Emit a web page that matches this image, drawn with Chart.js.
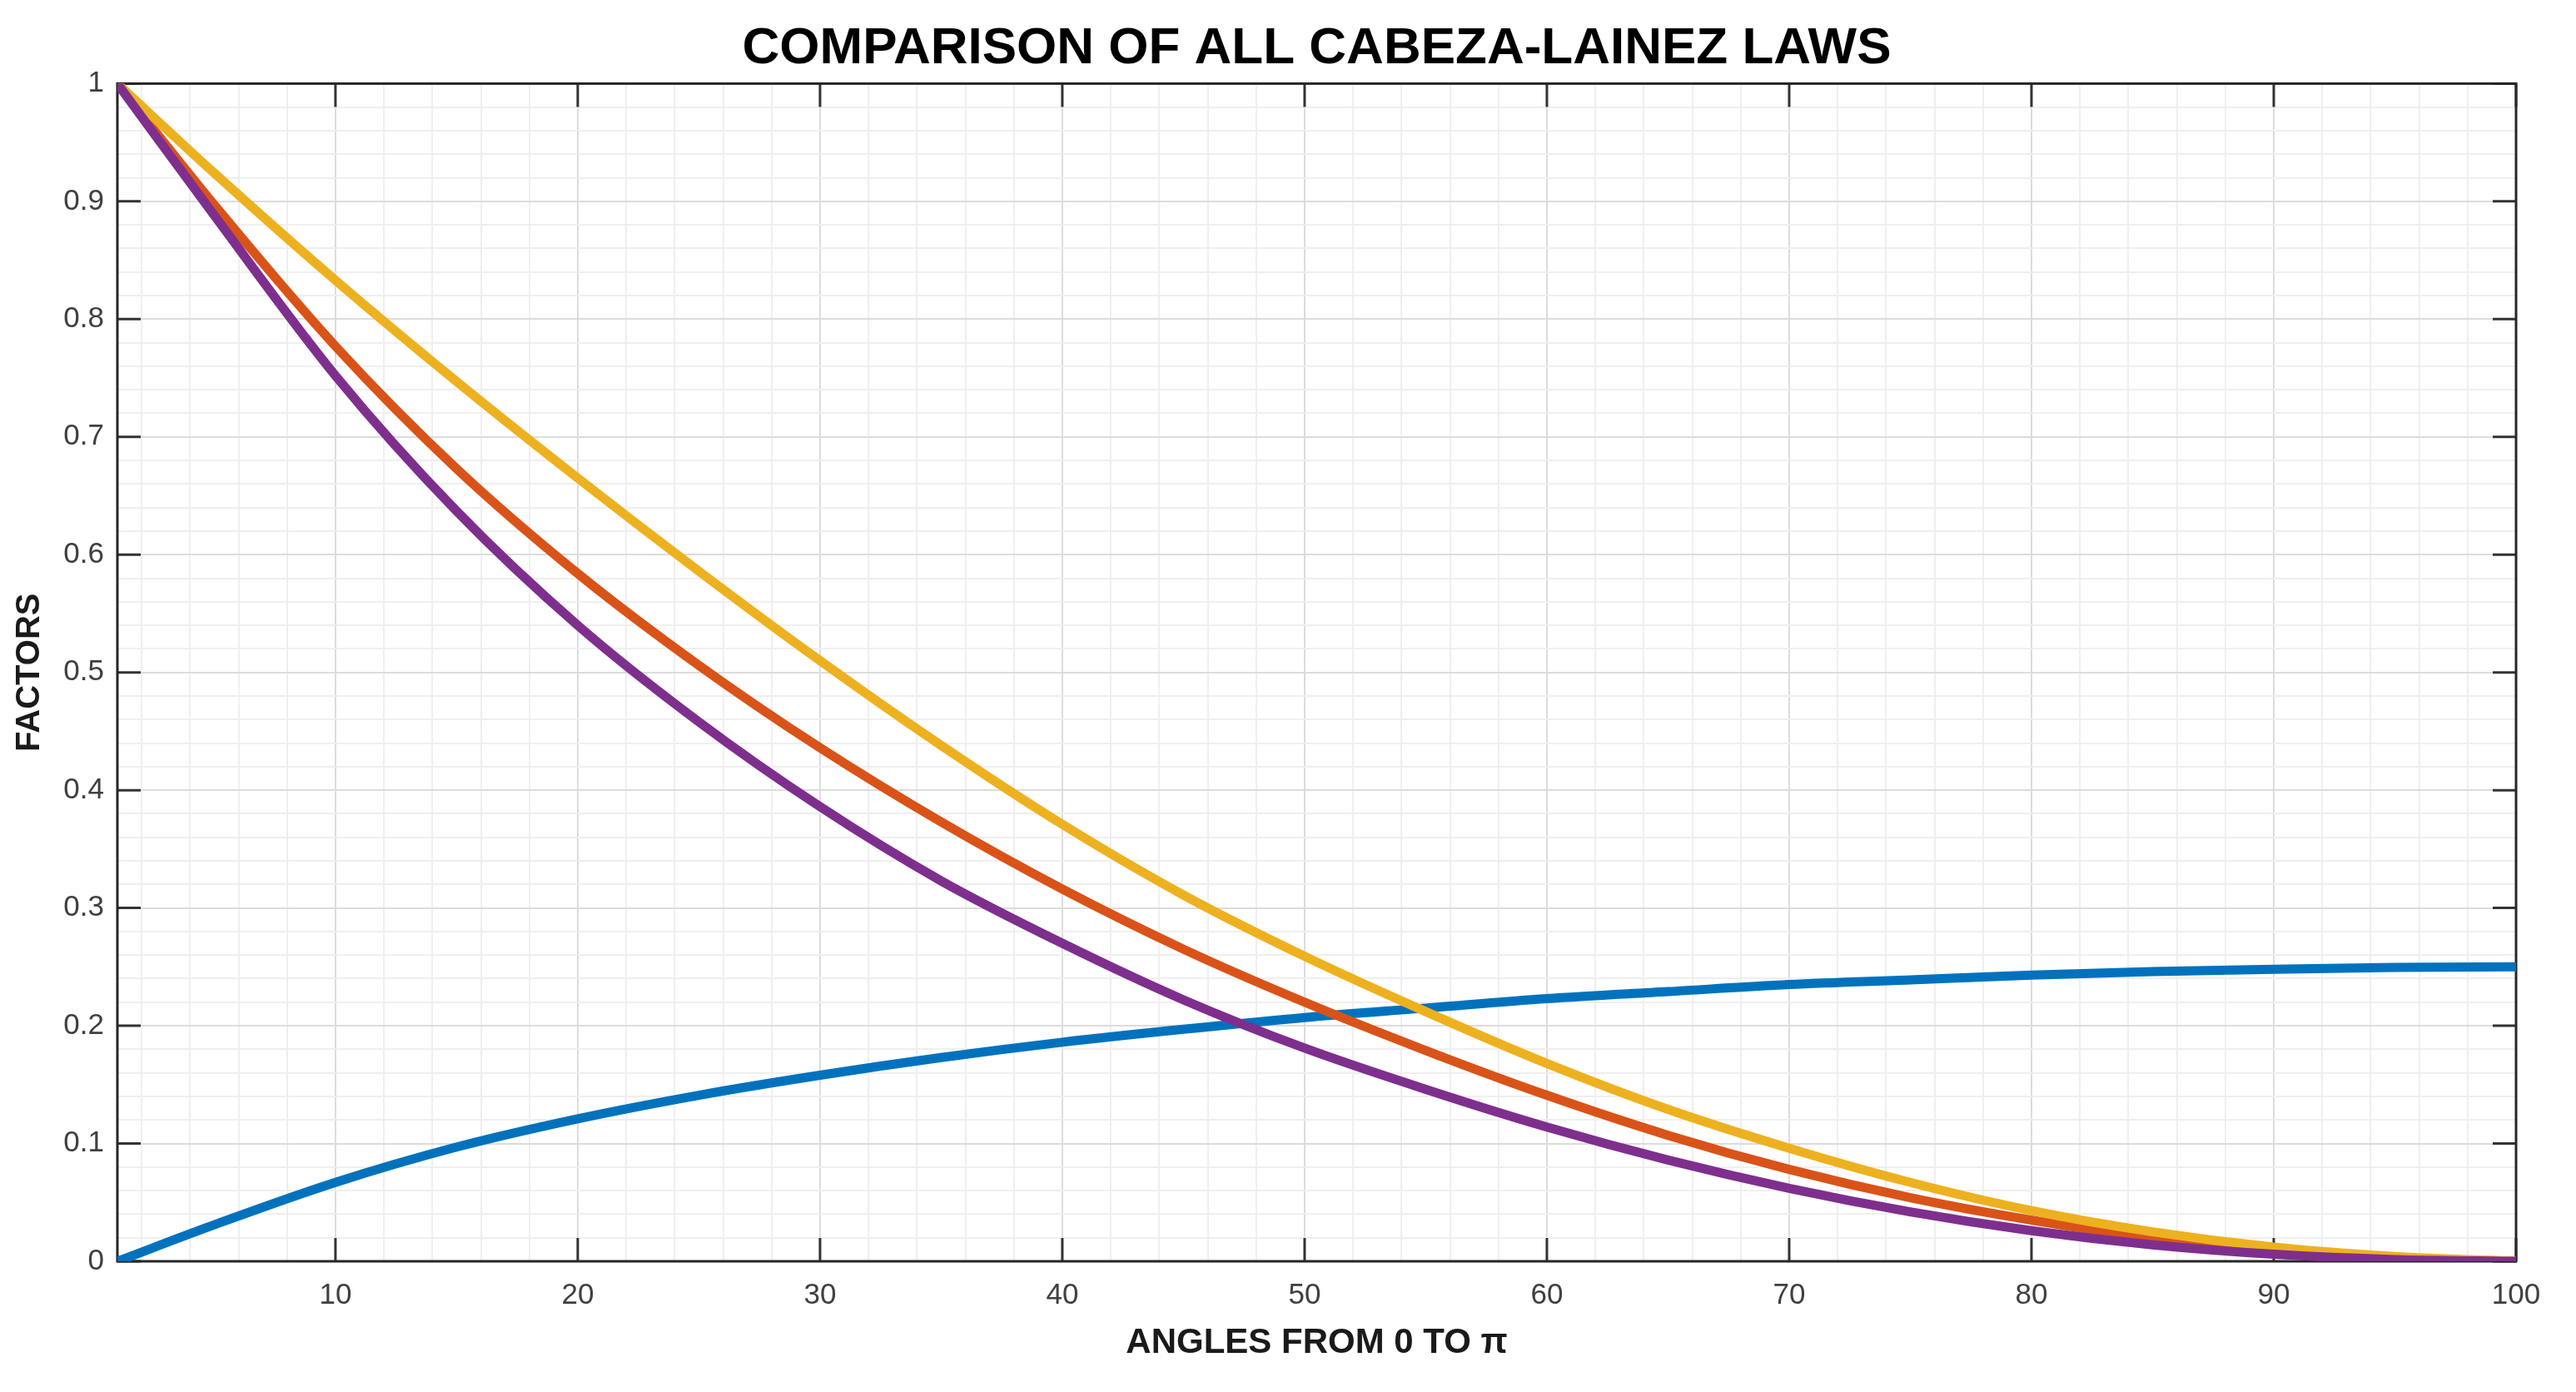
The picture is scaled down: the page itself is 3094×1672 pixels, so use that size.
<!DOCTYPE html>
<html>
<head>
<meta charset="utf-8">
<script src="https://cdn.jsdelivr.net/npm/chart.js@4.4.1/dist/chart.umd.min.js"></script>
<style>
  html, body { margin: 0; padding: 0; background: #fff; }
</style>
</head>
<body>
<canvas id="lawsChart" width="3094" height="1672"></canvas>
<script>
// sample angles (index 1..100) and values
const angles = [1, 5, 10, 15, 20, 25, 30, 35, 40, 45, 50, 55, 60, 65, 70, 75, 80, 85, 90, 95, 100];
const lawBlue   = [0, 0.031, 0.067, 0.097, 0.121, 0.141, 0.158, 0.173, 0.186, 0.197, 0.207, 0.215, 0.223, 0.229, 0.235, 0.239, 0.243, 0.246, 0.248, 0.2495, 0.250];
const lawOrange = [1, 0.897, 0.777, 0.673, 0.584, 0.506, 0.436, 0.373, 0.316, 0.265, 0.220, 0.179, 0.141, 0.107, 0.078, 0.054, 0.035, 0.020, 0.010, 0.003, 0];
const lawYellow = [1, 0.924, 0.833, 0.747, 0.665, 0.586, 0.510, 0.438, 0.371, 0.311, 0.259, 0.212, 0.168, 0.129, 0.096, 0.067, 0.043, 0.025, 0.012, 0.004, 0];
const lawPurple = [1, 0.888, 0.752, 0.637, 0.540, 0.458, 0.386, 0.323, 0.270, 0.222, 0.181, 0.146, 0.114, 0.086, 0.062, 0.042, 0.026, 0.014, 0.006, 0.0015, 0];

const xMajorTicks = [10, 20, 30, 40, 50, 60, 70, 80, 90, 100];
const yMajorTicks = [0, 0.1, 0.2, 0.3, 0.4, 0.5, 0.6, 0.7, 0.8, 0.9, 1];
const yTickLabels = ['0', '0.1', '0.2', '0.3', '0.4', '0.5', '0.6', '0.7', '0.8', '0.9', '1'];
const xMinorStep = 2;
const yMinorStep = 0.02;

function findTick(list, v) {
  return list.findIndex(t => Math.abs(t - v) < 1e-6);
}

function points(values) {
  return angles.map((a, i) => ({ x: a, y: values[i] }));
}

function gridColor(ctx, majors) {
  if (!ctx.tick) return '#efefef';
  return findTick(majors, ctx.tick.value) >= 0 ? '#dcdcdc' : '#efefef';
}

// matlab style box with inward tick marks on all four sides
const boxPlugin = {
  id: 'matlabBox',
  beforeDatasetsDraw(chart) {
    const { ctx, chartArea: a, scales: { x, y } } = chart;
    const len = 28;
    ctx.save();
    ctx.strokeStyle = '#333333';
    ctx.lineWidth = 3;
    ctx.beginPath();
    xMajorTicks.forEach(v => {
      const px = x.getPixelForValue(v);
      ctx.moveTo(px, a.bottom); ctx.lineTo(px, a.bottom - len);
      ctx.moveTo(px, a.top); ctx.lineTo(px, a.top + len);
    });
    yMajorTicks.forEach(v => {
      const py = y.getPixelForValue(v);
      ctx.moveTo(a.left, py); ctx.lineTo(a.left + len, py);
      ctx.moveTo(a.right, py); ctx.lineTo(a.right - len, py);
    });
    ctx.stroke();
    ctx.strokeStyle = '#262626';
    ctx.strokeRect(a.left, a.top, a.right - a.left, a.bottom - a.top);
    ctx.restore();
  }
};

const lineStyle = {
  borderWidth: 11,
  pointRadius: 0,
  fill: false,
  cubicInterpolationMode: 'monotone',
  borderJoinStyle: 'round'
};

new Chart(document.getElementById('lawsChart'), {
  type: 'line',
  data: {
    datasets: [
      { ...lineStyle, data: points(lawBlue),   borderColor: '#0072BD', order: 4 },
      { ...lineStyle, data: points(lawOrange), borderColor: '#D95319', order: 3 },
      { ...lineStyle, data: points(lawYellow), borderColor: '#EDB120', order: 2 },
      { ...lineStyle, data: points(lawPurple), borderColor: '#7E2F8E', order: 1 }
    ]
  },
  options: {
    responsive: false,
    animation: false,
    devicePixelRatio: 1,
    layout: { padding: { left: 10, right: 72, top: 0, bottom: 20 } },
    plugins: {
      legend: { display: false },
      tooltip: { enabled: false },
      title: {
        display: true,
        fullSize: false,
        text: 'COMPARISON OF ALL CABEZA-LAINEZ LAWS',
        color: '#000',
        font: { family: 'Liberation Sans', size: 62, weight: 'bold' },
        padding: { top: 22, bottom: 4 }
      }
    },
    scales: {
      x: {
        type: 'linear',
        min: 1,
        max: 100,
        afterBuildTicks(scale) {
          const t = [];
          for (let v = xMinorStep; v <= 100; v += xMinorStep) t.push({ value: v });
          scale.ticks = t;
        },
        afterFit(scale) { scale.height = 1672 - 1515 - 20; },
        border: { display: false },
        grid: { color: ctx => gridColor(ctx, xMajorTicks), lineWidth: 2, drawTicks: false },
        ticks: {
          autoSkip: false,
          maxRotation: 0,
          padding: 20,
          color: '#404040',
          font: { family: 'Liberation Sans', size: 35 },
          callback: v => (findTick(xMajorTicks, v) >= 0 ? String(v) : '')
        },
        title: {
          display: true,
          text: 'ANGLES FROM 0 TO π',
          color: '#1a1a1a',
          font: { family: 'Liberation Sans', size: 42, weight: 'bold' },
          padding: { top: 0, bottom: 13 }
        }
      },
      y: {
        type: 'linear',
        min: 0,
        max: 1,
        afterBuildTicks(scale) {
          const t = [];
          for (let i = 0; i <= 50; i++) t.push({ value: Math.round(i * yMinorStep * 100) / 100 });
          scale.ticks = t;
        },
        afterFit(scale) { scale.width = 131; },
        border: { display: false },
        grid: { color: ctx => gridColor(ctx, yMajorTicks), lineWidth: 2, drawTicks: false },
        ticks: {
          autoSkip: false,
          padding: 16,
          color: '#404040',
          font: { family: 'Liberation Sans', size: 35 },
          callback: v => {
            const i = findTick(yMajorTicks, v);
            return i >= 0 ? yTickLabels[i] : '';
          }
        },
        title: {
          display: true,
          text: 'FACTORS',
          color: '#1a1a1a',
          font: { family: 'Liberation Sans', size: 40, weight: 'bold' },
          padding: { top: 2, bottom: 0 }
        }
      }
    }
  },
  plugins: [boxPlugin]
});
</script>
</body>
</html>
